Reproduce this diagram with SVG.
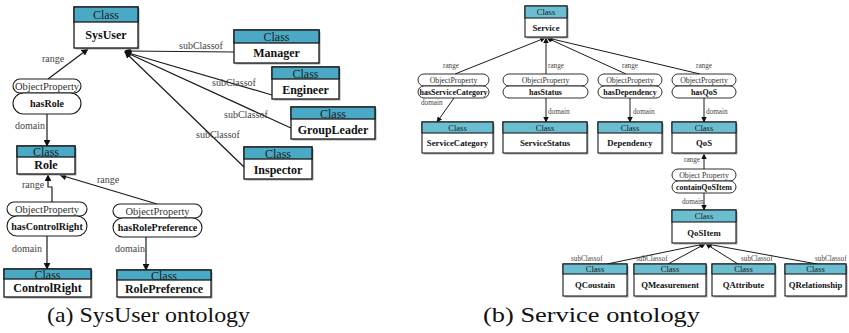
<svg xmlns="http://www.w3.org/2000/svg" width="849" height="333" viewBox="0 0 849 333">
  <defs>
    <marker id="arrL" viewBox="0 0 10 10" refX="9" refY="5" markerWidth="7" markerHeight="7" markerUnits="userSpaceOnUse" orient="auto">
      <path d="M0,0 L10,5 L0,10 z" fill="#111"/>
    </marker>
    <marker id="arrR" viewBox="0 0 10 10" refX="9" refY="5" markerWidth="5.5" markerHeight="5.5" markerUnits="userSpaceOnUse" orient="auto">
      <path d="M0,0 L10,5 L0,10 z" fill="#111"/>
    </marker>
  </defs>
  <style>
    .shadow { fill: #a8a8a8; }
    .hdrA { fill: #4aaac5; stroke: #1a1a1a; stroke-width: 1.3; }
    .hdrB { fill: #6bbdd0; stroke: #1a1a1a; stroke-width: 1.1; }
    .body { fill: #ffffff; stroke: #1a1a1a; stroke-width: 1.3; }
    .bodyB { fill: #ffffff; stroke: #1a1a1a; stroke-width: 1.1; }
    .cap { fill: #ffffff; stroke: #1a1a1a; stroke-width: 1.1; }
    .capB { fill: #ffffff; stroke: #1a1a1a; stroke-width: 0.9; }
    .edgeA { fill: none; stroke: #1a1a1a; stroke-width: 1.2; marker-end: url(#arrL); }
    .edgeB { fill: none; stroke: #1a1a1a; stroke-width: 1; marker-end: url(#arrR); }
    text { font-family: "Liberation Serif", "Times New Roman", serif; }
    .clsA { font-size: 12px; fill: #1a1a1a; text-anchor: middle; }
    .nameA { font-size: 12px; font-weight: bold; fill: #111; text-anchor: middle; }
    .opA { font-size: 10.5px; fill: #333; text-anchor: middle; }
    .propA { font-size: 10px; font-weight: bold; fill: #111; text-anchor: middle; }
    .lblA { font-size: 10px; fill: #444; }
    .clsB { font-size: 8.5px; fill: #1a1a1a; text-anchor: middle; }
    .nameB { font-size: 8.7px; font-weight: bold; fill: #111; text-anchor: middle; }
    .opB { font-size: 7.8px; fill: #333; text-anchor: middle; }
    .propB { font-size: 8px; font-weight: bold; fill: #111; text-anchor: middle; }
    .lblB { font-size: 7.2px; fill: #444; }
    .caption { font-size: 21px; fill: #111; }
  </style>

  <!-- ===== (a) SysUser ontology ===== -->
  <g id="connectors-a">
    <line class="edgeA" x1="48" y1="79" x2="88" y2="49"/>
    <line class="edgeA" x1="47" y1="114" x2="47" y2="146"/>
    <line class="edgeA" x1="234" y1="52" x2="125" y2="51"/>
    <line class="edgeA" x1="272" y1="95" x2="125" y2="52"/>
    <line class="edgeA" x1="291" y1="128" x2="125" y2="52"/>
    <line class="edgeA" x1="244" y1="167" x2="125" y2="52"/>
    <polyline class="edgeA" points="52,202 52,187 48,187 48,175"/>
    <line class="edgeA" x1="157" y1="204" x2="60" y2="175"/>
    <line class="edgeA" x1="47" y1="236" x2="47" y2="269"/>
    <line class="edgeA" x1="146" y1="237" x2="146" y2="270"/>
    <text class="lblA" x="42" y="62">range</text>
    <text class="lblA" x="15" y="129">domain</text>
    <text class="lblA" x="179" y="49">subClassof</text>
    <text class="lblA" x="212" y="86">subClassof</text>
    <text class="lblA" x="224" y="118">subClassof</text>
    <text class="lblA" x="196" y="138">subClassof</text>
    <text class="lblA" x="22" y="188">range</text>
    <text class="lblA" x="97" y="183">range</text>
    <text class="lblA" x="12" y="252">domain</text>
    <text class="lblA" x="115" y="252">domain</text>
  </g>

  <g id="SysUser">
    <rect class="shadow" x="75.5" y="8.5" width="64" height="41"/>
    <rect class="body" x="74" y="7" width="64" height="41"/>
    <rect class="hdrA" x="74" y="7" width="64" height="15"/>
    <text class="clsA" x="106" y="19">Class</text>
    <text class="nameA" x="106" y="39">SysUser</text>
  </g>
  <g id="Manager">
    <rect class="shadow" x="235.5" y="31.5" width="85" height="33"/>
    <rect class="body" x="234" y="30" width="85" height="33"/>
    <rect class="hdrA" x="234" y="30" width="85" height="13"/>
    <text class="clsA" x="276.5" y="41">Class</text>
    <text class="nameA" x="276.5" y="57">Manager</text>
  </g>
  <g id="Engineer">
    <rect class="shadow" x="273.5" y="68.5" width="67" height="32"/>
    <rect class="body" x="272" y="67" width="67" height="32"/>
    <rect class="hdrA" x="272" y="67" width="67" height="12"/>
    <text class="clsA" x="305.5" y="77.5">Class</text>
    <text class="nameA" x="305.5" y="94">Engineer</text>
  </g>
  <g id="GroupLeader">
    <rect class="shadow" x="292.5" y="108.5" width="84" height="32"/>
    <rect class="body" x="291" y="107" width="84" height="32"/>
    <rect class="hdrA" x="291" y="107" width="84" height="12"/>
    <text class="clsA" x="333" y="117.5">Class</text>
    <text class="nameA" x="333" y="134">GroupLeader</text>
  </g>
  <g id="Inspector">
    <rect class="shadow" x="245.5" y="148.5" width="68" height="32"/>
    <rect class="body" x="244" y="147" width="68" height="32"/>
    <rect class="hdrA" x="244" y="147" width="68" height="12"/>
    <text class="clsA" x="278" y="157.5">Class</text>
    <text class="nameA" x="278" y="174">Inspector</text>
  </g>
  <g id="hasRole">
    <rect class="cap" x="13" y="79" width="68" height="14" rx="7"/>
    <rect class="cap" x="13" y="93" width="68" height="21" rx="10.5"/>
    <text class="opA" x="47" y="90">ObjectProperty</text>
    <text class="propA" x="47" y="107">hasRole</text>
  </g>
  <g id="Role">
    <rect class="shadow" x="18.5" y="147.5" width="58" height="28"/>
    <rect class="body" x="17" y="146" width="58" height="28"/>
    <rect class="hdrA" x="17" y="146" width="58" height="11"/>
    <text class="clsA" x="46" y="156">Class</text>
    <text class="nameA" x="46" y="169">Role</text>
  </g>
  <g id="hasControlRight">
    <rect class="cap" x="7" y="202" width="80" height="14" rx="7"/>
    <rect class="cap" x="7" y="216" width="80" height="20" rx="10"/>
    <text class="opA" x="47" y="213">ObjectProperty</text>
    <text class="propA" x="47" y="229.5">hasControlRight</text>
  </g>
  <g id="hasRolePreference">
    <rect class="cap" x="113" y="204" width="89" height="14" rx="7"/>
    <rect class="cap" x="113" y="218" width="89" height="19" rx="9.5"/>
    <text class="opA" x="157.5" y="215">ObjectProperty</text>
    <text class="propA" x="157.5" y="231">hasRolePreference</text>
  </g>
  <g id="ControlRight">
    <rect class="shadow" x="5.5" y="270.5" width="87" height="28"/>
    <rect class="body" x="4" y="269" width="87" height="28"/>
    <rect class="hdrA" x="4" y="269" width="87" height="10"/>
    <text class="clsA" x="47.5" y="278.5">Class</text>
    <text class="nameA" x="47.5" y="292">ControlRight</text>
  </g>
  <g id="RolePreference">
    <rect class="shadow" x="118.5" y="271.5" width="94" height="27"/>
    <rect class="body" x="117" y="270" width="94" height="27"/>
    <rect class="hdrA" x="117" y="270" width="94" height="10"/>
    <text class="clsA" x="164" y="279.5">Class</text>
    <text class="nameA" x="164" y="292.5">RolePreference</text>
  </g>

  <!-- ===== (b) Service ontology ===== -->
  <g id="connectors-b">
    <line class="edgeB" x1="455" y1="74" x2="545" y2="38"/>
    <line class="edgeB" x1="546" y1="74" x2="546" y2="38"/>
    <line class="edgeB" x1="626" y1="74" x2="547" y2="38"/>
    <line class="edgeB" x1="700" y1="74" x2="548" y2="38"/>
    <line class="edgeB" x1="454" y1="98" x2="437" y2="122"/>
    <line class="edgeB" x1="546" y1="98" x2="546" y2="122"/>
    <line class="edgeB" x1="630" y1="98" x2="630" y2="122"/>
    <line class="edgeB" x1="704" y1="98" x2="704" y2="122"/>
    <line class="edgeB" x1="704" y1="169" x2="704" y2="154"/>
    <line class="edgeB" x1="704" y1="193" x2="704" y2="210"/>
    <line class="edgeB" x1="607" y1="264" x2="704" y2="244"/>
    <line class="edgeB" x1="668" y1="264" x2="705" y2="244"/>
    <line class="edgeB" x1="738" y1="264" x2="706" y2="244"/>
    <line class="edgeB" x1="817" y1="264" x2="707" y2="244"/>
    <text class="lblB" x="443" y="68">range</text>
    <text class="lblB" x="548" y="68">range</text>
    <text class="lblB" x="622" y="68">range</text>
    <text class="lblB" x="696" y="68">range</text>
    <text class="lblB" x="421" y="105">domain</text>
    <text class="lblB" x="548" y="114">domain</text>
    <text class="lblB" x="633" y="114">domain</text>
    <text class="lblB" x="706" y="114">domain</text>
    <text class="lblB" x="684" y="162">range</text>
    <text class="lblB" x="682" y="204">domain</text>
    <text class="lblB" x="571" y="261">subClassof</text>
    <text class="lblB" x="636" y="261">subClassof</text>
    <text class="lblB" x="741" y="261">subClassof</text>
    <text class="lblB" x="815" y="261">subClassof</text>
  </g>

  <g id="Service">
    <rect class="shadow" x="526.5" y="7.5" width="42" height="31"/>
    <rect class="bodyB" x="525" y="6" width="42" height="31"/>
    <rect class="hdrB" x="525" y="6" width="42" height="12"/>
    <text class="clsB" x="546" y="15">Class</text>
    <text class="nameB" x="546" y="31">Service</text>
  </g>
  <g id="hasServiceCategory">
    <rect class="capB" x="418" y="74" width="71" height="12" rx="6"/>
    <rect class="capB" x="418" y="86" width="71" height="12" rx="6"/>
    <text class="opB" x="453.5" y="82.8">ObjectProperty</text>
    <text class="propB" x="453.5" y="94.8">hasServiceCategory</text>
  </g>
  <g id="hasStatus">
    <rect class="capB" x="503" y="74" width="85" height="12" rx="6"/>
    <rect class="capB" x="503" y="86" width="85" height="12" rx="6"/>
    <text class="opB" x="545.5" y="82.8">ObjectProperty</text>
    <text class="propB" x="545.5" y="94.8">hasStatus</text>
  </g>
  <g id="hasDependency">
    <rect class="capB" x="598" y="74" width="64" height="12" rx="6"/>
    <rect class="capB" x="598" y="86" width="64" height="12" rx="6"/>
    <text class="opB" x="630" y="82.8">ObjectProperty</text>
    <text class="propB" x="630" y="94.8">hasDependency</text>
  </g>
  <g id="hasQoS">
    <rect class="capB" x="672" y="74" width="64" height="12" rx="6"/>
    <rect class="capB" x="672" y="86" width="64" height="12" rx="6"/>
    <text class="opB" x="704" y="82.8">ObjectProperty</text>
    <text class="propB" x="704" y="94.8">hasQoS</text>
  </g>
  <g id="ServiceCategory">
    <rect class="shadow" x="423.5" y="123.5" width="71" height="31"/>
    <rect class="bodyB" x="422" y="122" width="71" height="31"/>
    <rect class="hdrB" x="422" y="122" width="71" height="11"/>
    <text class="clsB" x="457.5" y="130.8">Class</text>
    <text class="nameB" x="457.5" y="146">ServiceCategory</text>
  </g>
  <g id="ServiceStatus">
    <rect class="shadow" x="504.5" y="123.5" width="84" height="31"/>
    <rect class="bodyB" x="503" y="122" width="84" height="31"/>
    <rect class="hdrB" x="503" y="122" width="84" height="11"/>
    <text class="clsB" x="545" y="130.8">Class</text>
    <text class="nameB" x="545" y="146">ServiceStatus</text>
  </g>
  <g id="Dependency">
    <rect class="shadow" x="599.5" y="123.5" width="64" height="31"/>
    <rect class="bodyB" x="598" y="122" width="64" height="31"/>
    <rect class="hdrB" x="598" y="122" width="64" height="11"/>
    <text class="clsB" x="630" y="130.8">Class</text>
    <text class="nameB" x="630" y="146">Dependency</text>
  </g>
  <g id="QoS">
    <rect class="shadow" x="673.5" y="123.5" width="64" height="31"/>
    <rect class="bodyB" x="672" y="122" width="64" height="31"/>
    <rect class="hdrB" x="672" y="122" width="64" height="11"/>
    <text class="clsB" x="704" y="130.8">Class</text>
    <text class="nameB" x="704" y="146">QoS</text>
  </g>
  <g id="containQoSItem">
    <rect class="capB" x="672" y="169" width="64" height="12" rx="6"/>
    <rect class="capB" x="672" y="181" width="64" height="12" rx="6"/>
    <text class="opB" x="704" y="177.8">Object Property</text>
    <text class="propB" x="704" y="189.8">containQoSItem</text>
  </g>
  <g id="QoSItem">
    <rect class="shadow" x="673.5" y="211.5" width="64" height="33"/>
    <rect class="bodyB" x="672" y="210" width="64" height="33"/>
    <rect class="hdrB" x="672" y="210" width="64" height="12"/>
    <text class="clsB" x="704" y="219">Class</text>
    <text class="nameB" x="704" y="235.5">QoSItem</text>
  </g>
  <g id="QCoustain">
    <rect class="shadow" x="564.5" y="265.5" width="64" height="32"/>
    <rect class="bodyB" x="563" y="264" width="64" height="32"/>
    <rect class="hdrB" x="563" y="264" width="64" height="10"/>
    <text class="clsB" x="595" y="272">Class</text>
    <text class="nameB" x="595" y="288">QCoustain</text>
  </g>
  <g id="QMeasurement">
    <rect class="shadow" x="635.5" y="265.5" width="72" height="32"/>
    <rect class="bodyB" x="634" y="264" width="72" height="32"/>
    <rect class="hdrB" x="634" y="264" width="72" height="10"/>
    <text class="clsB" x="670" y="272">Class</text>
    <text class="nameB" x="670" y="288">QMeasurement</text>
  </g>
  <g id="QAttribute">
    <rect class="shadow" x="713.5" y="265.5" width="63" height="32"/>
    <rect class="bodyB" x="712" y="264" width="63" height="32"/>
    <rect class="hdrB" x="712" y="264" width="63" height="10"/>
    <text class="clsB" x="743.5" y="272">Class</text>
    <text class="nameB" x="743.5" y="288">QAttribute</text>
  </g>
  <g id="QRelationship">
    <rect class="shadow" x="786.5" y="265.5" width="61" height="32"/>
    <rect class="bodyB" x="785" y="264" width="61" height="32"/>
    <rect class="hdrB" x="785" y="264" width="61" height="10"/>
    <text class="clsB" x="815.5" y="272">Class</text>
    <text class="nameB" x="815.5" y="288">QRelationship</text>
  </g>

  <!-- sub-figure captions -->
  <text class="caption" x="47" y="322" textLength="203" lengthAdjust="spacingAndGlyphs">(a) SysUser ontology</text>
  <text class="caption" x="483" y="322" textLength="217" lengthAdjust="spacingAndGlyphs">(b) Service ontology</text>
</svg>
